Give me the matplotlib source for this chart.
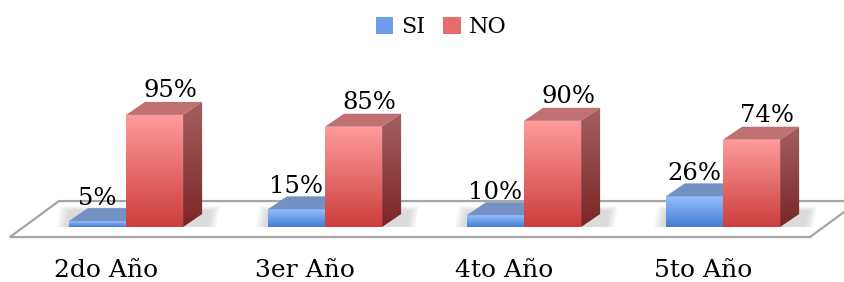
import numpy as np
import matplotlib.pyplot as plt
from matplotlib.patches import Polygon, Patch

plt.rcParams['font.family'] = ['DejaVu Serif']

# %%
categorias = ['2do Año', '3er Año', '4to Año', '5to Año']
si = [5, 15, 10, 26]
no = [95, 85, 90, 74]
series = ['SI', 'NO']

# %%
fig = plt.figure(figsize=(8.45, 2.82), dpi=100)
ax = fig.add_axes([0, 0, 1, 1])
xlim = (-0.633, 3.613)
ylim = (-46.6, 192.4)

w = 0.287      # ancho de barra
dx, dy = 0.0955, 11.0   # profundidad

azul = dict(top=np.array([150, 190, 255]) / 255, bot=np.array([65, 125, 210]) / 255,
            cara=np.array([115, 145, 195]) / 255,
            lado_t=np.array([80, 110, 170]) / 255, lado_b=np.array([40, 80, 150]) / 255)
rojo = dict(top=np.array([255, 155, 155]) / 255, bot=np.array([205, 62, 62]) / 255,
            cara=np.array([192, 112, 112]) / 255,
            lado_t=np.array([165, 95, 95]) / 255, lado_b=np.array([122, 38, 38]) / 255)


def cara_gradiente(verts, c_top, c_bot, z):
    poly = Polygon(verts, closed=True, fc='none', ec='none')
    ax.add_patch(poly)
    xs, ys = zip(*verts)
    g = np.linspace(0, 1, 64)[:, None, None]
    img = c_top[None, None, :] * (1 - g) + c_bot[None, None, :] * g
    im = ax.imshow(img, extent=(min(xs), max(xs), min(ys), max(ys)), origin='upper',
                   aspect='auto', zorder=z, interpolation='bilinear')
    im.set_clip_path(poly)


def barra(x0, v, col, z):
    x1 = x0 + w
    cara_gradiente([(x0, 0), (x1, 0), (x1, v), (x0, v)], col['top'], col['bot'], z)
    ax.add_patch(Polygon([(x0, v), (x1, v), (x1 + dx, v + dy), (x0 + dx, v + dy)],
                         closed=True, fc=col['cara'], ec='none', zorder=z))
    cara_gradiente([(x1, 0), (x1 + dx, dy), (x1 + dx, v + dy), (x1, v)],
                   col['lado_t'], col['lado_b'], z)


# piso
fx0, fx1 = -0.583, 3.437
fy0, fy1 = -8.5, 22.0
fdx = 0.246
ax.add_patch(Polygon([(fx0, fy0), (fx1, fy0), (fx1 + fdx, fy1), (fx0 + fdx, fy1)],
                     closed=True, fc='white', ec='#a6a6a6', lw=1.6, zorder=1))

for i, (s, n) in enumerate(zip(si, no)):
    # sombra
    for k in range(6):
        e = k * 0.008
        ax.add_patch(Polygon([(i - w - 0.02 - e, 0), (i + w + dx + 0.03 + e, 0),
                              (i + w + dx + 0.05 + e, dy + 3 + k * 0.7), (i - w - 0.0 - e, dy + 3 + k * 0.7)],
                             closed=True, fc='#909090', ec='none', alpha=0.06, zorder=2))
    barra(i - w, s, azul, 3)
    barra(i, n, rojo, 4)
    ax.text(i - w / 2, s + dy + 3, f'{s}%', ha='center', va='baseline', fontsize=17.5, zorder=6)
    ax.text(i + w / 2 + 0.08, n + dy + 4, f'{n}%', ha='center', va='baseline', fontsize=17.5, zorder=6)
    ax.text(i - 0.1, -37, categorias[i], ha='center', va='center', fontsize=18)

handles = [Patch(fc=(azul['top'] + azul['bot']) / 2, ec='none'),
           Patch(fc=(rojo['top'] + rojo['bot']) / 2, ec='none')]
fig.legend(handles, series, loc='center', bbox_to_anchor=(0.522, 0.905), ncol=2, frameon=False,
           fontsize=16, handlelength=0.8, handleheight=0.8, handletextpad=0.35, columnspacing=0.8)

ax.set_xlim(*xlim)
ax.set_ylim(*ylim)
ax.axis('off')

plt.savefig('out.png', dpi=100)
